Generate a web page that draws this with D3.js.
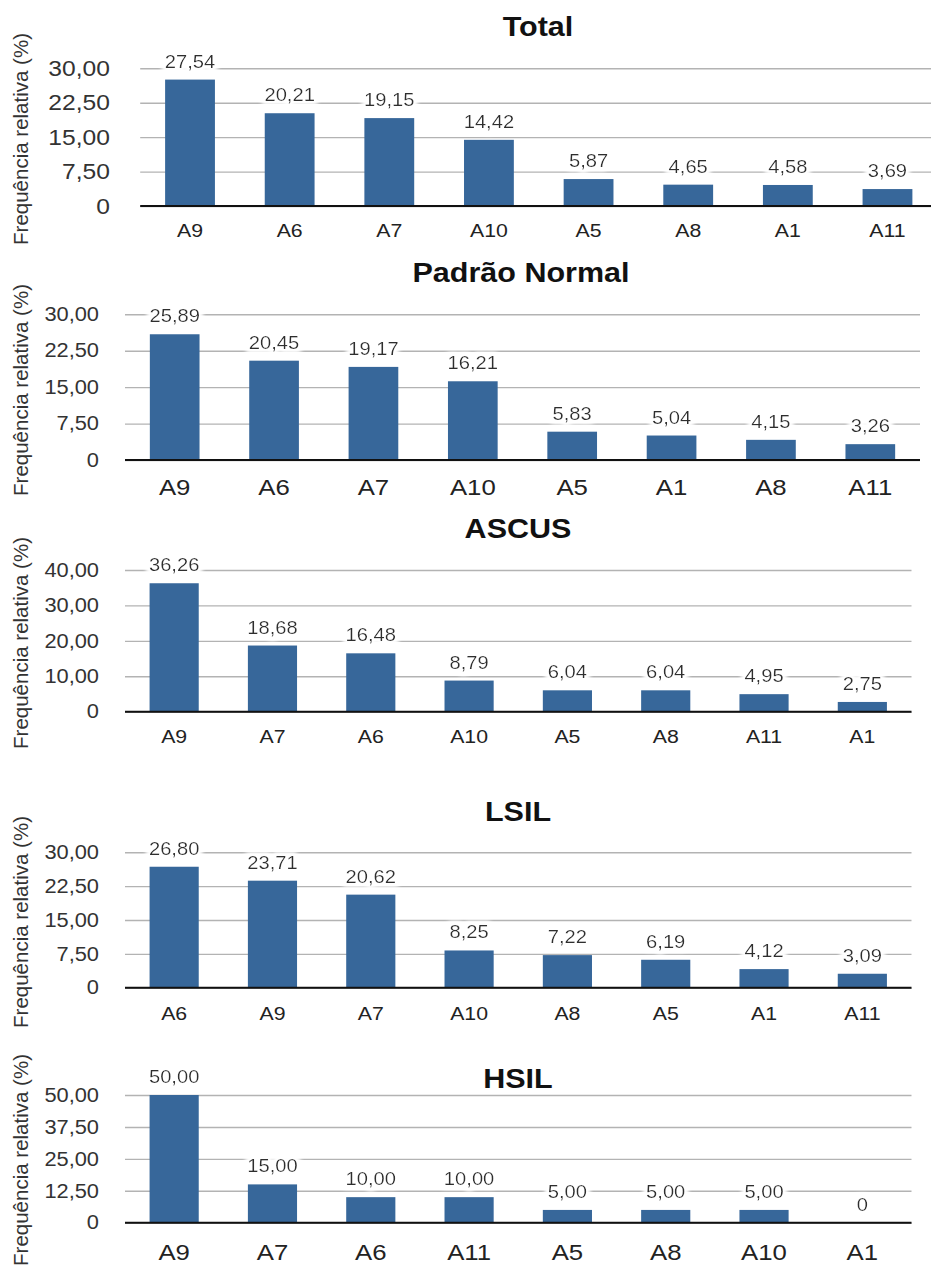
<!DOCTYPE html>
<html>
<head>
<meta charset="utf-8">
<script src="https://cdn.jsdelivr.net/npm/d3@7"></script>
<style>
  html, body { margin: 0; padding: 0; background: #fff; }
  svg { display: block; }
  text { font-family: "Liberation Sans", Arial, Helvetica, sans-serif; }
</style>
</head>
<body>
<svg id="chart" width="931" height="1266"></svg>
<script>
// ---- data ----
const totalCats  = ["A9", "A6", "A7", "A10", "A5", "A8", "A1", "A11"];
const totalVals  = [27.54, 20.21, 19.15, 14.42, 5.87, 4.65, 4.58, 3.69];

const normalCats = ["A9", "A6", "A7", "A10", "A5", "A1", "A8", "A11"];
const normalVals = [25.89, 20.45, 19.17, 16.21, 5.83, 5.04, 4.15, 3.26];

const ascusCats  = ["A9", "A7", "A6", "A10", "A5", "A8", "A11", "A1"];
const ascusVals  = [36.26, 18.68, 16.48, 8.79, 6.04, 6.04, 4.95, 2.75];

const lsilCats   = ["A6", "A9", "A7", "A10", "A8", "A5", "A1", "A11"];
const lsilVals   = [26.80, 23.71, 20.62, 8.25, 7.22, 6.19, 4.12, 3.09];

const hsilCats   = ["A9", "A7", "A6", "A11", "A5", "A8", "A10", "A1"];
const hsilVals   = [50.00, 15.00, 10.00, 10.00, 5.00, 5.00, 5.00, 0];

const ticks30 = [0, 7.5, 15, 22.5, 30];
const ticks40 = [0, 10, 20, 30, 40];
const ticks50 = [0, 12.5, 25, 37.5, 50];

const yTitle = "Frequência relativa (%)";

// ---- panel layout ----
const panels = [
  { title: "Total", cats: totalCats, vals: totalVals, ticks: ticks30,
    x0: 140.2, x1: 937.3, yTop: 68.3, yBot: 206, titleX: 538, titleY: 36,
    tickX: 110, tickSize: 22, labSize: 19, labDy: 31, valSize: 18, axisTitleY: 139 },
  { title: "Padrão Normal", cats: normalCats, vals: normalVals, ticks: ticks30,
    x0: 125, x1: 920, yTop: 314.3, yBot: 460, titleX: 521, titleY: 282,
    tickX: 99, tickSize: 19.5, labSize: 23, labDy: 35, valSize: 18, axisTitleY: 390 },
  { title: "ASCUS", cats: ascusCats, vals: ascusVals, ticks: ticks40,
    x0: 125, x1: 911.5, yTop: 570, yBot: 711.7, titleX: 518, titleY: 538,
    tickX: 99, tickSize: 19.5, labSize: 19, labDy: 31, valSize: 18, axisTitleY: 643 },
  { title: "LSIL", cats: lsilCats, vals: lsilVals, ticks: ticks30,
    x0: 125, x1: 911.5, yTop: 852.3, yBot: 987.7, titleX: 518, titleY: 821,
    tickX: 99, tickSize: 19.5, labSize: 19, labDy: 32, valSize: 18, axisTitleY: 922 },
  { title: "HSIL", cats: hsilCats, vals: hsilVals, ticks: ticks50,
    x0: 125, x1: 911.5, yTop: 1095, yBot: 1222.7, titleX: 518, titleY: 1088,
    tickX: 99, tickSize: 19.5, labSize: 23, labDy: 37, valSize: 18, axisTitleY: 1160 }
];

const BAR = "#37679a";
const WIDE = 1.12;      // horizontal widening of the labels
const fmt = v => v === 0 ? "0" : d3.format(".2f")(v).replace(".", ",");

// widen a text selection horizontally about its own anchor x
function widen(sel, s) {
  sel.each(function () {
    const t = d3.select(this);
    const ax = +t.attr("x") || 0;
    t.attr("transform", `translate(${ax},0) scale(${s},1) translate(${-ax},0)`);
  });
}

const svg = d3.select("#chart");

// soft white halo behind the value labels
const defs = svg.append("defs");
const halo = defs.append("filter").attr("id", "halo")
  .attr("x", "-20%").attr("y", "-40%").attr("width", "140%").attr("height", "180%");
halo.append("feMorphology").attr("in", "SourceAlpha").attr("operator", "dilate")
  .attr("radius", 2.5).attr("result", "grow");
halo.append("feGaussianBlur").attr("in", "grow").attr("stdDeviation", 2).attr("result", "soft");
halo.append("feFlood").attr("flood-color", "#fff").attr("result", "white");
halo.append("feComposite").attr("in", "white").attr("in2", "soft").attr("operator", "in").attr("result", "glow");
const merge = halo.append("feMerge");
merge.append("feMergeNode").attr("in", "glow");
merge.append("feMergeNode").attr("in", "glow");
merge.append("feMergeNode").attr("in", "SourceGraphic");

panels.forEach(p => {
  const g = svg.append("g");
  const maxTick = p.ticks[p.ticks.length - 1];

  const x = d3.scaleBand().domain(p.cats).range([p.x0, p.x1]).paddingInner(0.5).paddingOuter(0.25);
  const y = d3.scaleLinear().domain([0, maxTick]).range([p.yBot, p.yTop]);

  // title
  g.append("text")
    .attr("x", p.titleX).attr("y", p.titleY)
    .attr("text-anchor", "middle")
    .attr("font-size", 28).attr("font-weight", "bold").attr("fill", "#111")
    .text(p.title)
    .call(widen, 1.09);

  // y axis title
  g.append("text")
    .attr("transform", `translate(28,${p.axisTitleY}) rotate(-90)`)
    .attr("text-anchor", "middle")
    .attr("font-size", 20.5).attr("fill", "#333")
    .text(yTitle);

  // gridlines (behind bars)
  const yAxis = d3.axisLeft(y).tickValues(p.ticks).tickFormat(fmt)
    .tickSize(-(p.x1 - p.x0)).tickPadding(p.x0 - p.tickX);
  const ga = g.append("g").attr("transform", `translate(${p.x0},0)`).call(yAxis);
  ga.select(".domain").remove();
  ga.selectAll(".tick line").attr("stroke", "#b3b3b3").attr("stroke-width", 1.4);
  ga.selectAll(".tick text")
    .attr("font-size", p.tickSize).attr("fill", "#333")
    .attr("font-family", "\"Liberation Sans\", Arial, sans-serif")
    .call(widen, WIDE);

  // bars
  g.append("g").selectAll("rect")
    .data(p.cats.map((c, i) => ({ c, v: p.vals[i] })))
    .join("rect")
    .attr("x", d => x(d.c))
    .attr("width", x.bandwidth())
    .attr("y", d => y(d.v))
    .attr("height", d => y(0) - y(d.v))
    .attr("fill", BAR);

  // baseline
  g.append("line")
    .attr("x1", p.x0).attr("x2", p.x1)
    .attr("y1", y(0)).attr("y2", y(0))
    .attr("stroke", "#111").attr("stroke-width", 2);

  // category labels
  const xAxis = d3.axisBottom(x).tickSize(0).tickPadding(0);
  const gx = g.append("g").attr("transform", `translate(0,${y(0)})`).call(xAxis);
  gx.select(".domain").remove();
  gx.selectAll(".tick text")
    .attr("y", p.labDy).attr("dy", 0)
    .attr("font-size", p.labSize).attr("fill", "#222")
    .attr("font-family", "\"Liberation Sans\", Arial, sans-serif")
    .call(widen, WIDE);

  // value labels
  g.append("g").selectAll("text")
    .data(p.cats.map((c, i) => ({ c, v: p.vals[i] })))
    .join("text")
    .attr("x", d => x(d.c) + x.bandwidth() / 2)
    .attr("y", d => y(d.v) - 12)
    .attr("text-anchor", "middle")
    .attr("font-size", p.valSize).attr("fill", "#2e2e2e")
    .attr("filter", "url(#halo)")
    .text(d => fmt(d.v))
    .call(widen, WIDE);
});
</script>
</body>
</html>
